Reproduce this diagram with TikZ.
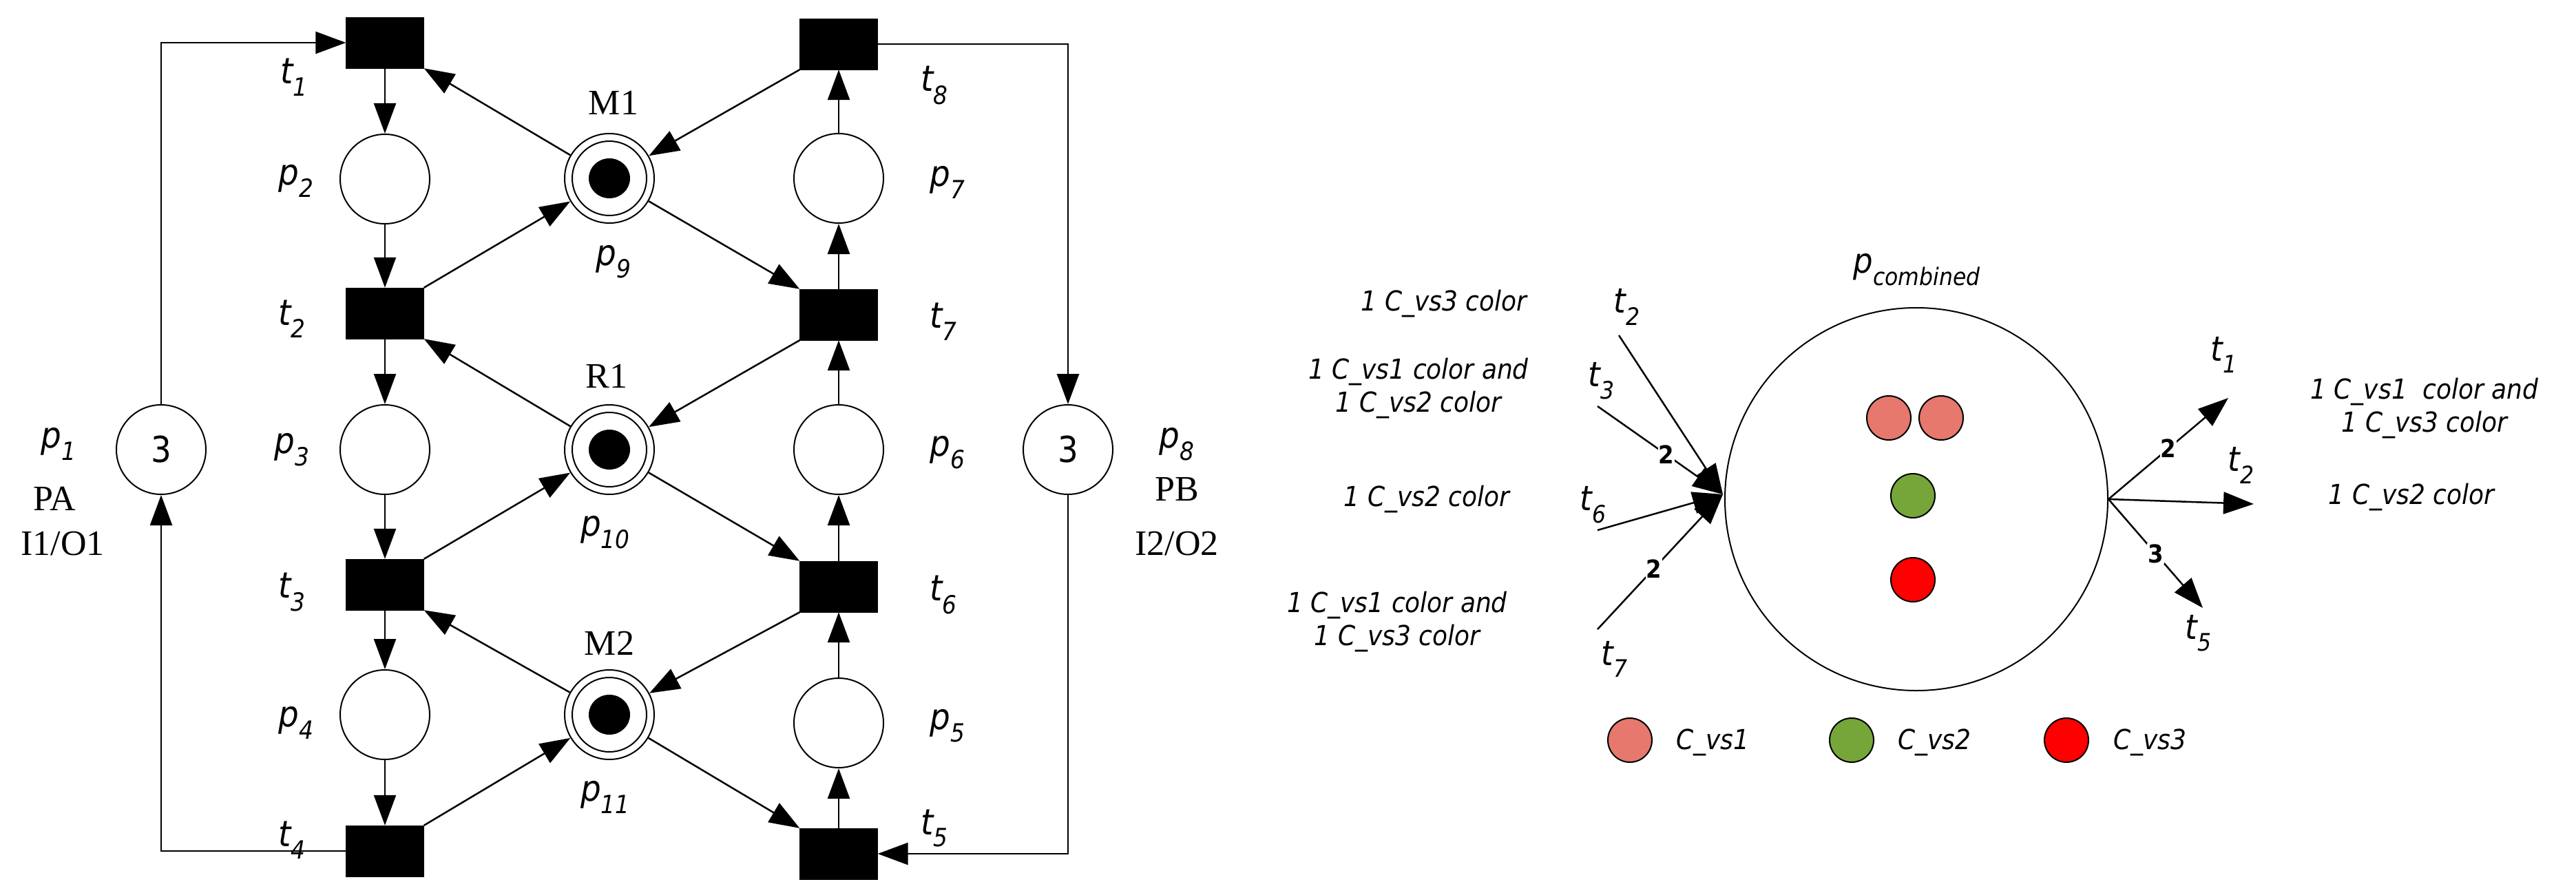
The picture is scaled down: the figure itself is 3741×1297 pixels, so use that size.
\documentclass[tikz,border=0pt]{standalone}
\usepackage{fontspec}
\setmainfont{Liberation Serif}
\newfontfamily\labf{DejaVu Sans Condensed}
\usetikzlibrary{arrows.meta}
\newcommand{\pl}[2]{{\labf\itshape #1\textsubscript{#2}}}
\begin{document}
\begin{tikzpicture}[x=1pt,y=-1pt,
  tr/.style={draw,fill=black,minimum width=113pt,minimum height=74pt,inner sep=0pt},
  pl/.style={draw,circle,line width=2pt,minimum size=130pt,inner sep=0pt},
  arr/.style={line width=2.5pt,-{Triangle[length=44pt,width=32pt]}},
  ln/.style={line width=2.5pt},
  big/.style={font=\fontsize{52}{60}\selectfont},
  sm/.style={font=\labf\itshape\fontsize{40}{48}\selectfont,align=center},
  wt/.style={font=\labf\bfseries\fontsize{36}{40}\selectfont,fill=white,inner sep=1pt},
  tok/.style={draw,circle,line width=2pt,minimum size=64pt,inner sep=0pt}]
\useasboundingbox (0,0) rectangle (3741,1297);
% left net transitions
\node[tr] (t1) at (559,62) {};
\node[tr] (t2) at (559,455) {};
\node[tr] (t3) at (559,849) {};
\node[tr] (t4) at (559,1236) {};
\node[tr] (t8) at (1218,64) {};
\node[tr] (t7) at (1218,457) {};
\node[tr] (t6) at (1218,852) {};
\node[tr] (t5) at (1218,1240) {};
% places
\node[pl] (p2) at (559,260) {};
\node[pl] (p3) at (559,653) {};
\node[pl] (p4) at (559,1038) {};
\node[pl] (p7) at (1218,259) {};
\node[pl] (p6) at (1218,653) {};
\node[pl] (p5) at (1218,1050) {};
\node[pl,font=\labf\fontsize{52}{60}\selectfont] (p1) at (234,653) {3};
\node[pl,font=\labf\fontsize{52}{60}\selectfont] (p8) at (1551,653) {3};
\foreach \n/\y in {p9/259,p10/653,p11/1038}{
  \node[pl] (\n) at (885,\y) {};
  \draw[line width=2pt] (885,\y) circle (54);
  \fill (885,\y) ellipse (30 and 29);
}
% labels
\begin{scope}[big]
\node at (427,112) {\pl{t}{1}};
\node at (424,463) {\pl{t}{2}};
\node at (424,860) {\pl{t}{3}};
\node at (424,1220) {\pl{t}{4}};
\node at (430,263) {\pl{p}{2}};
\node at (424,653) {\pl{p}{3}};
\node at (430,1050) {\pl{p}{4}};
\node at (1376,265) {\pl{p}{7}};
\node at (1376,657) {\pl{p}{6}};
\node at (1376,1054) {\pl{p}{5}};
\node at (1357,124) {\pl{t}{8}};
\node at (1370,467) {\pl{t}{7}};
\node at (1370,864) {\pl{t}{6}};
\node at (1357,1203) {\pl{t}{5}};
\node at (891,149) {M1};
\node at (891,380) {\pl{p}{9}};
\node at (881,546) {R1};
\node at (879,773) {\pl{p}{10}};
\node at (885,934) {M2};
\node at (879,1158) {\pl{p}{11}};
\node at (85,645) {\pl{p}{1}};
\node at (79,724) {PA};
\node at (91,790) {I1/O1};
\node at (1709,645) {\pl{p}{8}};
\node at (1709,711) {PB};
\node at (1709,790) {I2/O2};
\end{scope}
% arcs columns
\draw[arr] (t1) -- (p2); \draw[arr] (p2) -- (t2);
\draw[arr] (t2) -- (p3); \draw[arr] (p3) -- (t3);
\draw[arr] (t3) -- (p4); \draw[arr] (p4) -- (t4);
\draw[arr] (t5) -- (p5); \draw[arr] (p5) -- (t6);
\draw[arr] (t6) -- (p6); \draw[arr] (p6) -- (t7);
\draw[arr] (t7) -- (p7); \draw[arr] (p7) -- (t8);
% resources
\draw[arr] (p9) -- (t1.south east); \draw[arr] (t2.north east) -- (p9);
\draw[arr] (p9) -- (t7.north west); \draw[arr] (t8.south west) -- (p9);
\draw[arr] (p10) -- (t2.south east); \draw[arr] (t3.north east) -- (p10);
\draw[arr] (p10) -- (t6.north west); \draw[arr] (t7.south west) -- (p10);
\draw[arr] (p11) -- (t3.south east); \draw[arr] (t4.north east) -- (p11);
\draw[arr] (p11) -- (t5.north west); \draw[arr] (t6.south west) -- (p11);
% loops
\draw[arr] (p1.north) |- (t1.west);
\draw[arr] (t4.west) -| (p1.south);
\draw[arr] (t8.east) -| (p8.north);
\draw[arr] (p8.south) |- (t5.east);
% right part
\node[draw,circle,line width=2pt,minimum size=556pt,inner sep=0pt] (P) at (2783,725) {};
\node[font=\labf\itshape\fontsize{50}{60}\selectfont] at (2784,392) {p\textsubscript{combined}};
\node[tok,fill={rgb,255:red,230;green,120;blue,110}] (k1) at (2743,607) {};
\node[tok,fill={rgb,255:red,230;green,120;blue,110}] (k2) at (2819,607) {};
\node[tok,fill={rgb,255:red,118;green,166;blue,58}] (k3) at (2778,720) {};
\node[tok,fill=red] (k4) at (2778,842) {};
\node[tok,fill={rgb,255:red,230;green,120;blue,110}] (l1) at (2367,1075) {};
\node[tok,fill={rgb,255:red,118;green,166;blue,58}] (l2) at (2689,1075) {};
\node[tok,fill=red] (l3) at (3001,1075) {};
\node[sm] at (2487,1078) {C\_vs1};
\node[sm] at (2809,1078) {C\_vs2};
\node[sm] at (3122,1078) {C\_vs3};
\coordinate (cin) at (2502,718);
\coordinate (cout) at (P.east);
\coordinate (a2) at (2351,487);
\coordinate (a3) at (2320,590);
\coordinate (a6) at (2320,770);
\coordinate (a7) at (2320,914);
\coordinate (b1) at (3236,578);
\coordinate (b2) at (3273,732);
\coordinate (b5) at (3199,883);
\draw[arr] (a2) -- (cin);
\draw[arr] (a3) -- node[pos=0.55,wt]{2} (cin);
\draw[arr] (a6) -- (cin);
\draw[arr] (a7) -- node[pos=0.45,wt]{2} (cin);
\draw[arr] (cout) -- node[pos=0.5,wt]{2} (b1);
\draw[arr] (cout) -- (b2);
\draw[arr] (cout) -- node[pos=0.5,wt]{3} (b5);
\begin{scope}[font=\fontsize{50}{60}\selectfont]
\node at (2363,446) {\pl{t}{2}};
\node at (2326,553) {\pl{t}{3}};
\node at (2314,733) {\pl{t}{6}};
\node at (2345,957) {\pl{t}{7}};
\node at (3230,515) {\pl{t}{1}};
\node at (3255,676) {\pl{t}{2}};
\node at (3193,920) {\pl{t}{5}};
\end{scope}
\node[sm] at (2097,441) {1 C\_vs3 color};
\node[sm] at (2060,564) {1 C\_vs1 color and\\1 C\_vs2 color};
\node[sm] at (2072,725) {1 C\_vs2 color};
\node[sm] at (2029,903) {1 C\_vs1 color and\\1 C\_vs3 color};
\node[sm] at (3521,593) {1 C\_vs1 \ color and\\1 C\_vs3 color};
\node[sm] at (3502,722) {1 C\_vs2 color};
\end{tikzpicture}
\end{document}
